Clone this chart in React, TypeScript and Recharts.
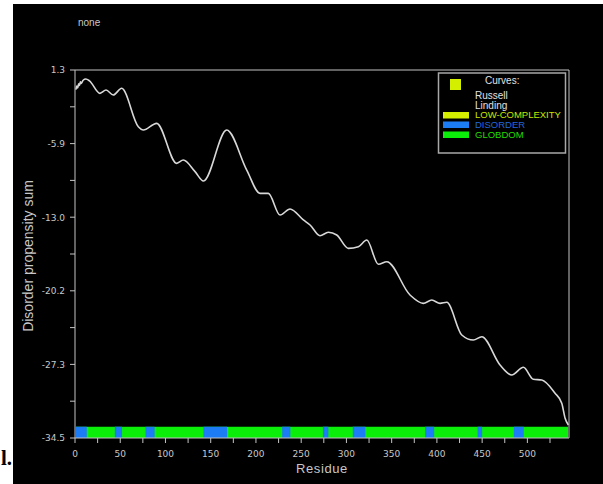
import React from 'react';
import { LineChart, Line, XAxis, YAxis, ReferenceArea } from 'recharts';

// Disorder propensity sum curve (residue, value)
const residues = [1, 2, 3, 4, 5, 6, 7, 9, 12, 16, 27.6, 34.3, 42.3, 51.6, 70, 75.5, 90.3, 112.4, 119.7, 132.7, 142, 167.7, 189.8, 204.5, 213.7, 226.6, 237.7, 252.4, 259.8, 270.8, 280, 289.3, 302.1, 313.2, 322.5, 335.3, 344.6, 370.3, 385, 394.3, 403.5, 410.9, 427.5, 440.3, 449.6, 469.8, 482.7, 495.6, 506.6, 515.9, 530.6, 538, 541.7, 545.3];
const propensity = [-0.6, -0.25, -0.45, -0.05, -0.2, 0.15, 0.0, 0.3, 0.42, 0.25, -0.97, -0.65, -1.13, -0.48, -4.22, -4.54, -3.89, -7.78, -7.46, -8.59, -9.5, -4.54, -8.43, -10.7, -10.7, -12.81, -12.22, -13.29, -13.78, -14.82, -14.49, -14.75, -16.05, -15.89, -15.24, -17.6, -17.35, -20.59, -21.4, -21.08, -21.4, -21.3, -24.48, -24.97, -24.65, -27.4, -28.37, -27.62, -28.79, -28.86, -30.15, -31.12, -32.58, -33.24];

const yMajorTicks = [1.3, -5.86, -13.02, -20.18, -27.34, -34.5];
const yMajorLabels = ['1.3', '-5.9', '-13.0', '-20.2', '-27.3', '-34.5'];
const yMinorTicks = [-2.28, -9.44, -16.6, -23.76, -30.92];
const xTicks = [0, 25, 50, 75, 100, 125, 150, 175, 200, 225, 250, 275, 300, 325, 350, 375, 400, 425, 450, 475, 500, 525];
const xLabelTicks = [0, 50, 100, 150, 200, 250, 300, 350, 400, 450, 500];

const disorderStart = [1, 44, 78, 142, 229, 274, 307, 387, 445, 485];
const disorderEnd = [13, 52, 88, 168, 238, 280, 321, 397, 450, 496];
const globdomRange = [1, 545];

const X_MAX = 546;
const Y_MIN = -34.5;
const Y_MAX = 1.3;
const BAND_TOP = -33.4;

const data = residues.map((r, i) => ({ r, v: propensity[i] }));
const yTicks = [...yMajorTicks, ...yMinorTicks].sort((a, b) => b - a);

const AXIS = '#c4c4c4';
const LABEL = '#c8c8c8';
const TICK_FONT = 'DejaVu Sans, sans-serif';
const SANS = 'Liberation Sans, Arial, sans-serif';

const YTick = (props: any) => {
  const { x, y, payload } = props;
  const idx = yMajorTicks.indexOf(payload.value);
  if (idx < 0) return <g />;
  return (
    <text x={x} y={y} dy={3.3} textAnchor="end" fill={LABEL} fontSize={9} fontFamily={TICK_FONT}>
      {yMajorLabels[idx]}
    </text>
  );
};

const XTick = (props: any) => {
  const { x, y, payload } = props;
  if (!xLabelTicks.includes(payload.value)) return <g />;
  return (
    <text x={x} y={y} dy={6.7} textAnchor="middle" fill={LABEL} fontSize={9} fontFamily={TICK_FONT}>
      {payload.value}
    </text>
  );
};

export default function App() {
  return (
    <div style={{ position: 'fixed', left: 0, top: 0, width: 603, height: 484, background: '#fff', overflow: 'hidden' }}>
      <div style={{ position: 'absolute', left: 13, top: 4, width: 590, height: 480, background: '#000' }}>
        <LineChart width={590} height={480} data={data} margin={{ top: 0, right: 0, bottom: 0, left: 0 }}>
          <XAxis xAxisId="bottom" type="number" dataKey="r" domain={[0, X_MAX]} ticks={xTicks} interval={0}
            height={46} tickSize={5} tickMargin={7} stroke={AXIS} tick={<XTick />} allowDataOverflow />
          <XAxis xAxisId="top" orientation="top" type="number" dataKey="r" domain={[0, X_MAX]} ticks={xTicks} interval={0}
            height={66} tickSize={5} stroke={AXIS} tick={false} allowDataOverflow />
          <YAxis yAxisId="left" type="number" domain={[Y_MIN, Y_MAX]} ticks={yTicks} interval={0}
            width={62} tickSize={5} tickMargin={5} stroke={AXIS} tick={<YTick />} allowDataOverflow />
          <YAxis yAxisId="right" orientation="right" type="number" domain={[Y_MIN, Y_MAX]} ticks={yTicks} interval={0}
            width={34} tickSize={5} stroke={AXIS} tick={false} allowDataOverflow />
          <ReferenceArea xAxisId="bottom" yAxisId="left" x1={globdomRange[0]} x2={globdomRange[1]} y1={Y_MIN} y2={BAND_TOP}
            fill="#0aee0a" fillOpacity={1} stroke="none" ifOverflow="visible" />
          {disorderStart.map((s, i) => (
            <ReferenceArea key={i} xAxisId="bottom" yAxisId="left" x1={s} x2={disorderEnd[i]} y1={Y_MIN} y2={BAND_TOP}
              fill="#1c7cf6" fillOpacity={1} stroke="none" ifOverflow="visible" />
          ))}
          <Line xAxisId="bottom" yAxisId="left" type="monotone" dataKey="v" stroke="#d8d8d8" strokeWidth={1.6}
            dot={false} isAnimationActive={false} />
        </LineChart>
      </div>
      <svg width={603} height={484} style={{ position: 'absolute', left: 0, top: 0, pointerEvents: 'none' }}>
        <text x={78} y={26} fontSize={10} fill={LABEL} fontFamily={SANS}>none</text>
        <text transform="translate(33,256) rotate(-90)" textAnchor="middle" fontSize={14} fill={LABEL} fontFamily={SANS}>
          Disorder propensity sum
        </text>
        <text x={322} y={473} textAnchor="middle" fontSize={13} letterSpacing={0.6} fill={LABEL} fontFamily={SANS}>Residue</text>
        <rect x={438.5} y={73} width={127} height={80} fill="#000" stroke="#a8a8a8" strokeWidth={1.5} />
        <rect x={450} y={79} width={11} height={11} fill="#d4f000" />
        <text x={485} y={84} fontSize={10} fill="#e0e0e0" fontFamily={SANS}>Curves:</text>
        <text x={475} y={98.5} fontSize={10} fill="#e0e0e0" fontFamily={SANS}>Russell</text>
        <text x={475} y={108.5} fontSize={10} fill="#e0e0e0" fontFamily={SANS}>Linding</text>
        <rect x={443} y={112} width={26} height={6.5} fill="#d4f000" />
        <text x={475} y={118} fontSize={9.5} fill="#c8e600" fontFamily={SANS}>LOW-COMPLEXITY</text>
        <rect x={443} y={121.5} width={26} height={6.5} fill="#1c7cf6" />
        <text x={475} y={128} fontSize={9.5} fill="#2266dd" fontFamily={SANS}>DISORDER</text>
        <rect x={443} y={131.5} width={26} height={6.5} fill="#0aee0a" />
        <text x={475} y={138} fontSize={9.5} fill="#22dd00" fontFamily={SANS}>GLOBDOM</text>
        <text x={1} y={465} fontSize={21} fontWeight="bold" fill="#000" fontFamily="Liberation Serif, serif">l.</text>
      </svg>
    </div>
  );
}
